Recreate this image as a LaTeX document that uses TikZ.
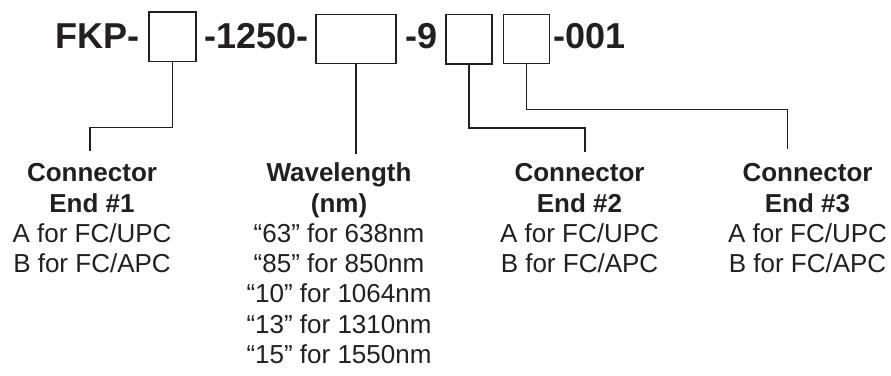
\documentclass[tikz,border=0pt]{standalone}
\usepackage{fontspec}
\setmainfont{Liberation Sans}
\definecolor{ink}{HTML}{231F20}
\begin{document}
\begin{tikzpicture}[x=1pt,y=-1pt,
  every node/.style={text=ink},
  title/.style={anchor=base west,inner sep=0pt,font=\fontsize{36}{40}\selectfont\bfseries},
  slot/.style={draw=ink,line width=1.4pt,inner sep=0pt},
  lead/.style={draw=ink,line width=1.4pt},
  col/.style={align=center,inner sep=0pt,anchor=base,font=\fontsize{26}{30.3}\selectfont}]
\useasboundingbox (0,0) rectangle (891,375);
% title
\node[title] (t1) at (55,48.3) {FKP-};
\node[slot,minimum width=47pt,minimum height=49.3pt] (b1) at (172.5,36.7) {};
\node[title] (t2) at (204.5,48.3) {-1250-};
\node[slot,minimum width=80pt,minimum height=48.6pt] (b2) at (356,39) {};
\node[title] (t3) at (405,48.3) {-9};
\node[slot,minimum width=46pt,minimum height=49.3pt] (b3) at (469,39.3) {};
\node[slot,minimum width=46pt,minimum height=48.6pt] (b4) at (526.3,39) {};
\node[title] (t4) at (553.5,48.3) {-001};
% descriptions (anchored at the baseline of their last line)
\node[col] (c1) at (92,272.6) {\textbf{Connector}\\\textbf{End \#1}\\A for FC/UPC\\B for FC/APC};
\node[col] (c2) at (339,363.5) {\textbf{Wavelength}\\\textbf{(nm)}\\“63” for 638nm\\“85” for 850nm\\“10” for 1064nm\\“13” for 1310nm\\“15” for 1550nm};
\node[col] (c3) at (579.5,272.6) {\textbf{Connector}\\\textbf{End \#2}\\A for FC/UPC\\B for FC/APC};
\node[col] (c4) at (807.5,272.6) {\textbf{Connector}\\\textbf{End \#3}\\A for FC/UPC\\B for FC/APC};
% leader ends
\coordinate (e1) at (90,150.7);
\coordinate (e2) at (354.7,154);
\coordinate (e3) at (585,152.3);
\coordinate (e4) at (787.3,149.3);
\draw[lead] (b1.south) -- ++(0,65.5) -| (e1);
\draw[lead] (b2.south) -- (b2.south |- e2);
\draw[lead] (b3.south) -- ++(0,63.5) -| (e3);
\draw[lead] (b4.south) -- ++(0,45.3) -| (e4);
\end{tikzpicture}
\end{document}
